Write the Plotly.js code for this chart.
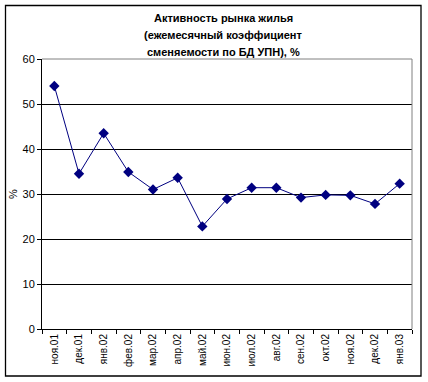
<!DOCTYPE html>
<html><head><meta charset="utf-8">
<script src="https://cdn.plot.ly/plotly-3.0.1.min.js"></script>
<style>body{margin:0;background:#fff}#c{width:428px;height:382px}</style>
</head><body><div id="c"></div>
<script>
const months = ["ноя.01","дек.01","янв.02","фев.02","мар.02","апр.02","май.02","июн.02","июл.02","авг.02","сен.02","окт.02","ноя.02","дек.02","янв.03"];
const values = [54.0,34.5,43.5,34.9,31.0,33.6,22.8,28.9,31.4,31.4,29.2,29.8,29.7,27.8,32.3];
const yTicks = [0,10,20,30,40,50,60];
const titleLines = ["Активность рынка жилья","(ежемесячный коэффициент","сменяемости по БД УПН), %"];

const L=42,R=16,T=59,B=53,W=428,H=382;
const pw=W-L-R, ph=H-T-B;
const px = v => (v-L)/pw, py = v => (H-B-v)/ph;

const trace = {
  x: months, y: values, type:'scatter', mode:'lines+markers',
  line:{color:'#000080',width:1},
  marker:{symbol:'diamond',size:8,color:'#000080'},
  hoverinfo:'none'
};
const titleY=[18,35,52];
const annotations = titleLines.map((t,i)=>({
  text:'<b>'+t+'</b>',xref:'paper',yref:'paper',x:px(223),y:py(titleY[i]),
  xanchor:'center',yanchor:'middle',showarrow:false,
  font:{size:11,family:'Liberation Sans, Arial, sans-serif',color:'#000'}
}));
const layout = {
  width:W,height:H,
  margin:{l:L,r:R,t:T,b:B,pad:0},
  paper_bgcolor:'rgba(0,0,0,0)',plot_bgcolor:'#fff',
  showlegend:false,
  font:{family:'Liberation Sans, Arial, sans-serif',color:'#000'},
  annotations:annotations,
  xaxis:{type:'category',range:[-0.5,14.5],showgrid:false,showline:true,linecolor:'#000',linewidth:1,
    ticks:'outside',tickson:'boundaries',ticklen:4,tickcolor:'#000',tickangle:-90,
    tickfont:{size:10,family:'Liberation Sans, Arial, sans-serif'},fixedrange:true},
  yaxis:{range:[0,60],tickvals:yTicks,showgrid:true,gridcolor:'#000',gridwidth:1,
    showline:true,linecolor:'#000',linewidth:1,ticks:'outside',ticklen:4,tickcolor:'#000',
    tickfont:{size:11,family:'Liberation Sans, Arial, sans-serif'},zeroline:false,
    title:{text:'%',font:{size:11},standoff:2},fixedrange:true},
  shapes:[
    {type:'line',xref:'paper',yref:'paper',x0:0,x1:1,y0:1,y1:1,line:{color:'#808080',width:1},layer:'above'},
    {type:'line',xref:'paper',yref:'paper',x0:1,x1:1,y0:0,y1:1,line:{color:'#808080',width:1},layer:'above'},
    {type:'rect',xref:'paper',yref:'paper',x0:px(5.5),x1:px(421),y0:py(376),y1:py(5.5),line:{color:'#000',width:1.3},layer:'below'}
  ]
};
Plotly.newPlot('c',[trace],layout,{staticPlot:true});
</script></body></html>
